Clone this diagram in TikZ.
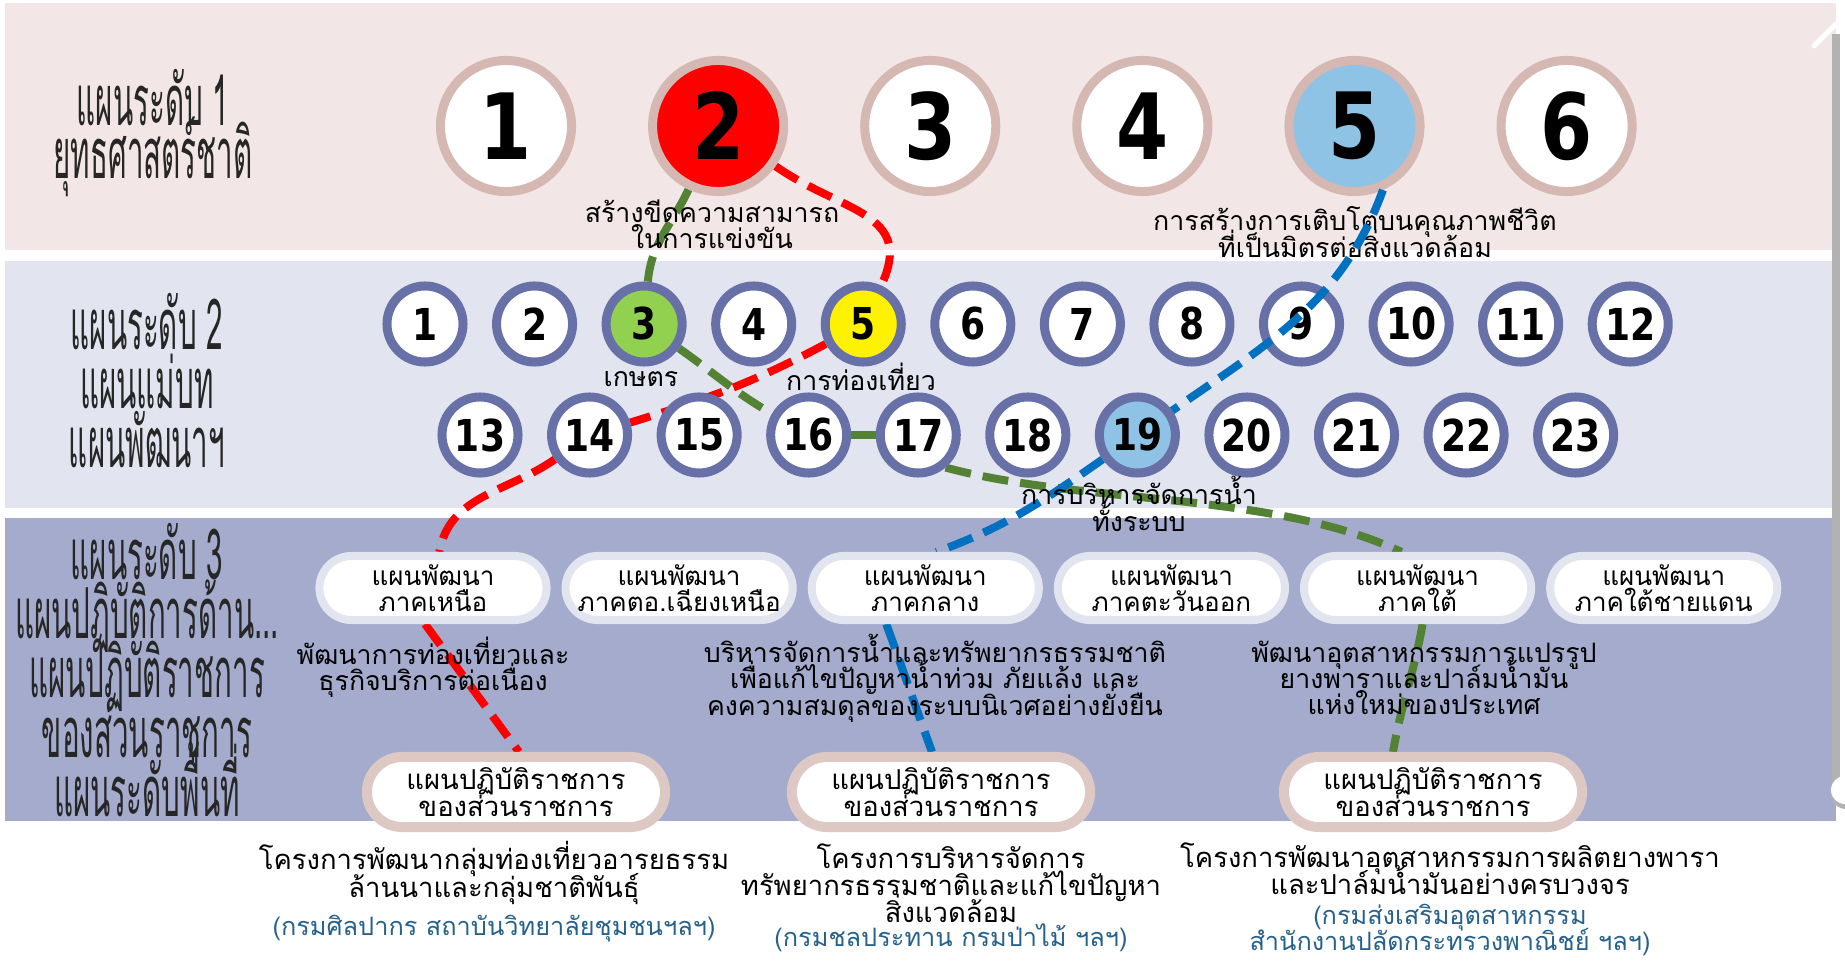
\documentclass[tikz,border=0pt]{standalone}
\usepackage{fontspec}
\setmainfont[Script=Thai]{Loma}
\newfontfamily\titlefont[Script=Thai,FakeStretch=0.42]{Loma}
\newfontfamily\numfont[FakeStretch=0.82]{DejaVu Sans}
\usetikzlibrary{arrows.meta}
\usetikzlibrary{calc}
\usetikzlibrary{positioning}

\definecolor{bandA}{RGB}{242,231,230}
\definecolor{bandB}{RGB}{226,229,239}
\definecolor{bandC}{RGB}{164,171,204}
\definecolor{ringA}{RGB}{214,184,178}
\definecolor{ringB}{RGB}{103,113,168}
\definecolor{rimB}{RGB}{222,200,195}
\definecolor{fillGreen}{RGB}{146,208,80}
\definecolor{fillBlue}{RGB}{142,195,229}
\definecolor{lineGreen}{RGB}{84,130,53}
\definecolor{lineBlue}{RGB}{0,112,192}
\definecolor{deptBlue}{RGB}{38,97,140}

\pgfdeclarelayer{back}
\pgfdeclarelayer{links}
\pgfsetlayers{back,links,main}

\lineskiplimit=-1000pt

\begin{document}
\begin{tikzpicture}[x=0.01cm, y=-0.01cm]

    \tikzstyle{bigc} = [circle, draw=ringA, line width=0.09cm, fill=white, minimum size=1.31cm, inner sep=0pt, node distance=2.12cm, font=\numfont\bfseries\fontsize{26pt}{26pt}\selectfont]
    \tikzstyle{smallc} = [circle, draw=ringB, line width=0.09cm, fill=white, minimum size=0.76cm, inner sep=0pt, node distance=1.095cm, font=\numfont\bfseries\fontsize{12.5pt}{12.5pt}\selectfont]
    \tikzstyle{pillA} = [rectangle, rounded corners=0.32cm, draw=bandB, line width=0.08cm, fill=white, minimum width=2.27cm, minimum height=0.64cm, inner sep=0pt, align=center, node distance=2.46cm, font=\fontsize{7.4pt}{7.4pt}\selectfont]
    \tikzstyle{pillB} = [rectangle, rounded corners=0.35cm, draw=rimB, line width=0.1cm, fill=white, minimum width=2.98cm, minimum height=0.70cm, inner sep=0pt, align=center, font=\fontsize{7.8pt}{7.8pt}\selectfont]
    \tikzstyle{lab} = [align=center, inner sep=0pt, font=\fontsize{7.6pt}{7.5pt}\selectfont]
    \tikzstyle{proj} = [align=center, inner sep=0pt, font=\fontsize{7.8pt}{7.7pt}\selectfont]
    \tikzstyle{dept} = [align=center, inner sep=0pt, text=deptBlue, font=\fontsize{7.2pt}{7.6pt}\selectfont]
    \tikzstyle{ttl} = [align=center, inner sep=0pt, text=black!85, font=\titlefont\fontsize{20pt}{16.8pt}\selectfont]
    \tikzstyle{dashlink} = [line width=0.08cm, dash pattern=on 0.26cm off 0.12cm]
    \tikzstyle{reddash} = [dashlink, draw=red]
    \tikzstyle{greendash} = [dashlink, draw=lineGreen]
    \tikzstyle{bluedash} = [dashlink, draw=lineBlue]

    \useasboundingbox (0,0) rectangle (1845,961);

    % Bands %%%%%%%%%%%%%%%%%%%%%%%%%%%%%%%%%%%%%%%%%%%%%%%%%%%%%%%%%%%%%%%%%%%%%%%%%%%%%
    \begin{pgfonlayer}{back}
      \fill[white] (0,0) rectangle (1845,961);
      \fill[bandA] (5,3) rectangle (1836,250);
      \fill[bandB] (5,261) rectangle (1836,508);
      \fill[bandC] (5,518) rectangle (1836,821);
      \draw[line width=0.08cm, black!30] (1836,34) -- (1836,792);
      \draw[line width=0.05cm, white, line cap=round] (1814,46) -- (1836,24) -- (1858,46);
      \fill[black!30] (1846,794) circle (0.15cm);
      \fill[white] (1845,790) circle (0.14cm);
    \end{pgfonlayer}

    % Level 1 %%%%%%%%%%%%%%%%%%%%%%%%%%%%%%%%%%%%%%%%%%%%%%%%%%%%%%%%%%%%%%%%%%%%%%%%%%%%
    \node[ttl] (h1) at (153,133) {แผนระดับ 1\\[-1.7pt]ยุทธศาสตร์ชาติ};

    \node[bigc] (p1) at (506,126) {1};
    \node[bigc, fill=red, right of=p1] (p2) {2};
    \node[bigc, right of=p2] (p3) {3};
    \node[bigc, right of=p3] (p4) {4};
    \node[bigc, fill=fillBlue, right of=p4] (p5) {5};
    \node[bigc, right of=p5] (p6) {6};

    \node[lab] (t2) at (712,224) {สร้างขีดความสามารถ\\ในการแข่งขัน};
    \node[lab] (t5) at (1355,232) {การสร้างการเติบโตบนคุณภาพชีวิต\\ที่เป็นมิตรต่อสิ่งแวดล้อม};

    % Level 2 %%%%%%%%%%%%%%%%%%%%%%%%%%%%%%%%%%%%%%%%%%%%%%%%%%%%%%%%%%%%%%%%%%%%%%%%%%%%
    \node[ttl] (h2) at (147,381) {แผนระดับ 2\\แผนแม่บท\\แผนพัฒนาฯ};

    \node[smallc] (s1) at (425,324) {1};
    \node[smallc, right of=s1] (s2) {2};
    \node[smallc, fill=fillGreen, right of=s2] (s3) {3};
    \node[smallc, right of=s3] (s4) {4};
    \node[smallc, fill=yellow, right of=s4] (s5) {5};
    \node[smallc, right of=s5] (s6) {6};
    \node[smallc, right of=s6] (s7) {7};
    \node[smallc, right of=s7] (s8) {8};
    \node[smallc, right of=s8] (s9) {9};
    \node[smallc, right of=s9] (s10) {10};
    \node[smallc, right of=s10] (s11) {11};
    \node[smallc, right of=s11] (s12) {12};

    \node[smallc] (s13) at (480,435) {13};
    \node[smallc, right of=s13] (s14) {14};
    \node[smallc, right of=s14] (s15) {15};
    \node[smallc, right of=s15] (s16) {16};
    \node[smallc, right of=s16] (s17) {17};
    \node[smallc, right of=s17] (s18) {18};
    \node[smallc, fill=fillBlue, right of=s18] (s19) {19};
    \node[smallc, right of=s19] (s20) {20};
    \node[smallc, right of=s20] (s21) {21};
    \node[smallc, right of=s21] (s22) {22};
    \node[smallc, right of=s22] (s23) {23};

    \node[lab] (k3) at (641,379) {เกษตร};
    \node[lab] (k5) at (861,377) {การท่องเที่ยว};
    \node[lab] (k19) at (1139,504) {การบริหารจัดการน้ำ\\ทั้งระบบ};

    % Level 3 %%%%%%%%%%%%%%%%%%%%%%%%%%%%%%%%%%%%%%%%%%%%%%%%%%%%%%%%%%%%%%%%%%%%%%%%%%%%
    \node[ttl] (h3) at (147,670) {แผนระดับ 3\\แผนปฏิบัติการด้าน...\\แผนปฏิบัติราชการ\\ของส่วนราชการ\\แผนระดับพื้นที่};

    \node[pillA] (r1) at (433,588) {แผนพัฒนา\\ภาคเหนือ};
    \node[pillA, right of=r1] (r2) {แผนพัฒนา\\ภาคตอ.เฉียงเหนือ};
    \node[pillA, right of=r2] (r3) {แผนพัฒนา\\ภาคกลาง};
    \node[pillA, right of=r3] (r4) {แผนพัฒนา\\ภาคตะวันออก};
    \node[pillA, right of=r4] (r5) {แผนพัฒนา\\ภาคใต้};
    \node[pillA, right of=r5] (r6) {แผนพัฒนา\\ภาคใต้ชายแดน};

    \node[lab] (d1) at (433,667) {พัฒนาการท่องเที่ยวและ\\ธุรกิจบริการต่อเนื่อง};
    \node[lab] (d3) at (935,678) {บริหารจัดการน้ำและทรัพยากรธรรมชาติ\\เพื่อแก้ไขปัญหาน้ำท่วม ภัยแล้ง และ\\คงความสมดุลของระบบนิเวศอย่างยั่งยืน};
    \node[lab] (d5) at (1424,678) {พัฒนาอุตสาหกรรมการแปรรูป\\ยางพาราและปาล์มน้ำมัน\\แห่งใหม่ของประเทศ};

    \node[pillB] (b1) at (516,792) {แผนปฏิบัติราชการ\\ของส่วนราชการ};
    \node[pillB] (b2) at (941,792) {แผนปฏิบัติราชการ\\ของส่วนราชการ};
    \node[pillB] (b3) at (1433,792) {แผนปฏิบัติราชการ\\ของส่วนราชการ};

    \node[proj] (j1) at (494,873) {โครงการพัฒนากลุ่มท่องเที่ยวอารยธรรม\\ล้านนาและกลุ่มชาติพันธุ์};
    \node[dept] (g1) at (494,929) {(กรมศิลปากร สถาบันวิทยาลัยชุมชนฯลฯ)};
    \node[proj] (j2) at (951,883) {โครงการบริหารจัดการ\\ทรัพยากรธรรมชาติและแก้ไขปัญหา\\สิ่งแวดล้อม};
    \node[dept] (g2) at (951,938) {(กรมชลประทาน กรมป่าไม้ ฯลฯ)};
    \node[proj] (j3) at (1450,869) {โครงการพัฒนาอุตสาหกรรมการผลิตยางพารา\\และปาล์มน้ำมันอย่างครบวงจร};
    \node[dept] (g3) at (1450,930) {(กรมส่งเสริมอุตสาหกรรม\\สำนักงานปลัดกระทรวงพาณิชย์ ฯลฯ)};

    % Now link the nodes %%%%%%%%%%%%%%%%%%%%%%%%%%%%%%%%%%%%%%%%%%%%%%%%%%%%%%%%%%%%%%%%
    \begin{pgfonlayer}{links}
      \draw[reddash] (p2) to[out=-35, in=65, looseness=1.3] (s5);
      \draw[reddash] (s5) to[out=208, in=17] (s14);
      \draw[reddash] (s14) to[out=215, in=80] (r1);
      \draw[reddash] ([xshift=-0.08cm]r1.south) -- ([xshift=0.03cm]b1.north);

      \draw[greendash] (p2) to[out=245, in=85] (s3);
      \draw[greendash] (s3) to[out=-35, in=150] (s16);
      \draw[greendash] (s16) -- (s17);
      \draw[greendash] (s17.-50) to[out=-15, in=155, looseness=0.8] ([xshift=-0.16cm]r5.north);
      \draw[greendash] ([xshift=0.05cm]r5.south) to[out=-100, in=80] ([xshift=-0.4cm]b3.north);

      \draw[bluedash] (s19) to[out=215, in=20] ([xshift=0.11cm]r3.north);
      \draw[bluedash] ([xshift=-0.39cm]r3.south) to[out=-70, in=110] ([xshift=-0.09cm]b2.north);
    \end{pgfonlayer}
    \draw[bluedash] (p5.-66) to[out=250, in=35] (s19);

\end{tikzpicture}
\end{document}
